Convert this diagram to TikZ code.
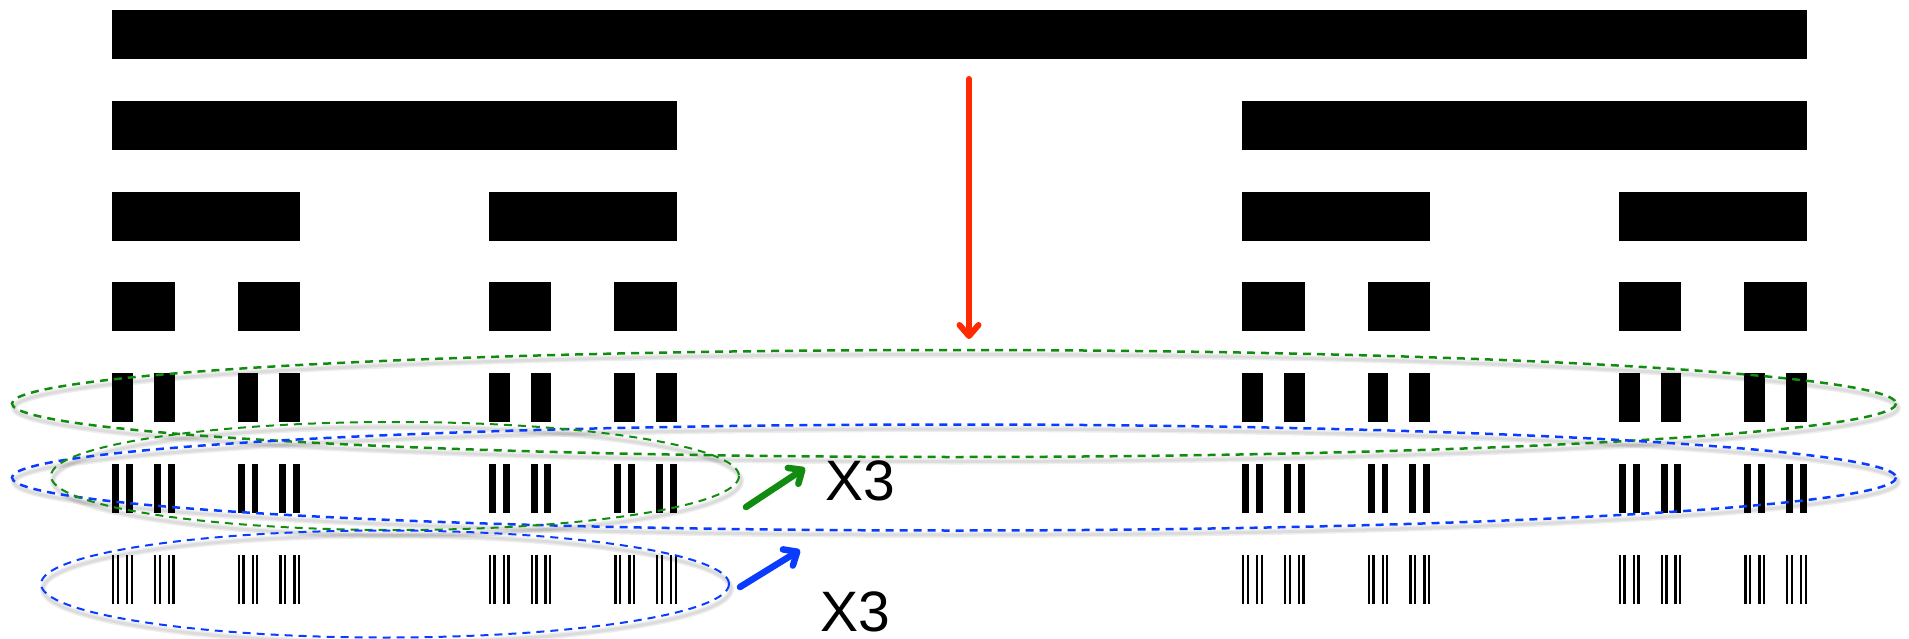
\documentclass[tikz,border=0pt]{standalone}
\usepackage{fontspec}
\setmainfont{Liberation Sans}
\usetikzlibrary{arrows.meta}
\definecolor{cutred}{HTML}{FF2A00}
\definecolor{grpgreen}{HTML}{118C11}
\definecolor{grpblue}{HTML}{0A3CFF}
\tikzset{
  bar/.style={fill=black},
  ring/.style={line width=2.5pt, dash pattern=on 8pt off 6pt},
  smallring/.style={line width=2pt, dash pattern=on 8pt off 6pt},
  ringshadow/.style={draw=black, opacity=0.07, line width=5pt},
  scalearrow/.style={line width=6.5pt, line cap=round, line join=round,
    -{Straight Barb[length=11pt,width=19pt,round]}},
  label/.style={font=\fontsize{57}{60}\selectfont, inner sep=0pt, text depth=0pt}
}
% one Cantor interval at level #3, then its two thirds at the next level
\def\cantorstep#1#2#3{%
  \begingroup
  \pgfmathsetmacro\cx{#1}%
  \pgfmathsetmacro\cw{#2}%
  \pgfmathsetmacro\ctop{10+90.8*#3}%
  \fill[bar] (\cx,\ctop) rectangle ++(\cw,49);
  \ifnum#3<6
    \pgfmathsetmacro\nw{\cw/3}%
    \pgfmathsetmacro\nx{\cx+2*\cw/3}%
    \pgfmathtruncatemacro\nl{#3+1}%
    \edef\next{\noexpand\cantorstep{\cx}{\nw}{\nl}\noexpand\cantorstep{\nx}{\nw}{\nl}}%
    \next
  \fi
  \endgroup}
\begin{document}
\begin{tikzpicture}[x=1pt,y=-1pt]
\useasboundingbox (0,0) rectangle (1909,639);

% the Cantor construction, seven levels
\cantorstep{112}{1695}{0}

% zoom arrow
\coordinate (zoomstart) at (969,79);
\coordinate (zoomend) at (969,339);
\draw[scalearrow, cutred, line width=6pt] (zoomstart) -- (zoomend);

% soft shadows of the groupings
\foreach \w in {3,6}{
  \draw[ringshadow, line width=\w pt] (956,408) ellipse [x radius=942, y radius=53.5];
  \draw[ringshadow, line width=\w pt] (956,482) ellipse [x radius=942, y radius=53];
  \draw[ringshadow, line width=\w pt] (397,481) ellipse [x radius=344, y radius=54];
  \draw[ringshadow, line width=\w pt] (387,589) ellipse [x radius=344, y radius=53.5];
}

% groupings of levels
\draw[ring, grpgreen] (954,403.5) ellipse [x radius=942, y radius=53.5];
\draw[ring, grpblue] (954,477.5) ellipse [x radius=942, y radius=53];
\draw[smallring, grpgreen] (395,476) ellipse [x radius=344, y radius=54];
\draw[smallring, grpblue] (385,584) ellipse [x radius=344, y radius=53.5];

% scale factors
\coordinate (ga) at (746,507);
\coordinate (gb) at (805,468);
\coordinate (ba) at (740,587);
\coordinate (bb) at (800,550);
\draw[scalearrow, grpgreen] (ga) -- (gb);
\draw[scalearrow, grpblue] (ba) -- (bb);
\node[label] (x3a) at (860,481) {X3};
\node[label] (x3b) at (855,612) {X3};
\end{tikzpicture}
\end{document}
